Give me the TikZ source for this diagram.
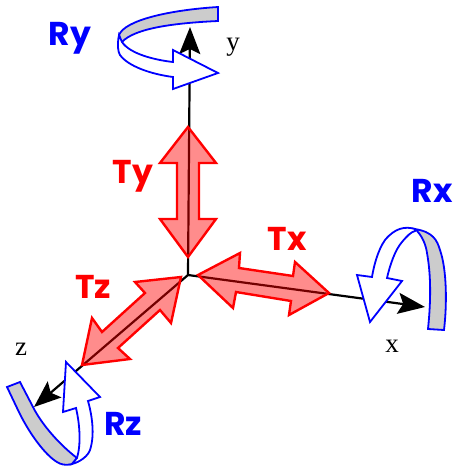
\documentclass[tikz,border=0pt]{standalone}
\usepackage{fontspec}
\setmainfont{Liberation Serif}
\setsansfont{Poppins}
\usepackage{xcolor}
\usetikzlibrary{arrows.meta}
\definecolor{accentblue}{RGB}{0,0,255}
\definecolor{accentred}{RGB}{255,0,0}
\definecolor{softgray}{RGB}{204,204,204}
\tikzset{
  axisline/.style={black, line width=2.2pt, -{Stealth[length=27pt,width=21pt,inset=5pt]}},
  axislabel/.style={font=\fontsize{27}{27}\selectfont, inner sep=0pt},
  shiftarrow/.style={draw=accentred, line width=2.4pt, fill=accentred, fill opacity=0.45, line join=miter},
  shiftlabel/.style={text=accentred, font=\sffamily\bfseries\fontsize{33}{33}\selectfont, inner sep=0pt},
  turnlabel/.style={text=accentblue, font=\sffamily\bfseries\fontsize{33}{33}\selectfont, inner sep=0pt},
  turnband/.style={draw=accentblue, line width=1.8pt, fill=softgray},
  turnhead/.style={draw=accentblue, line width=1.8pt, fill=white},
}
\begin{document}
\begin{tikzpicture}[x=1pt,y=-1pt,>=Latex]
  \useasboundingbox (0,0) rectangle (454,467);
  \coordinate (origin) at (188,275);
  \coordinate (ytip) at (190,27);
  \coordinate (xtip) at (425,307);
  \coordinate (ztip) at (34,407);
  % axes
  \draw[axisline] (origin) -- (ytip);
  \draw[axisline] (origin) -- (xtip);
  \draw[axisline] (origin) -- (ztip);
  \node[axislabel] (ylabel) at (233,47) {y};
  \node[axislabel] (xlabel) at (392,346) {x};
  \node[axislabel] (zlabel) at (21,349) {z};
  % translations
  \draw[shiftarrow] (188,127) -- (216,163) -- (199,163) -- (199,219) -- (216,219) -- (188,257)
    -- (160,219) -- (177,219) -- (177,163) -- (160,163) -- cycle;
  \draw[shiftarrow] (198,275) -- (240,253) -- (239,268) -- (293,276) -- (295,262) -- (329,293)
    -- (289,315) -- (291,301) -- (236,292) -- (233,308) -- cycle;
  \draw[shiftarrow] (181,277) -- (135,282) -- (145,293) -- (102,332) -- (92,318) -- (82,365)
    -- (130,359) -- (118,348) -- (160,310) -- (171,323) -- cycle;
  \node[shiftlabel] (ty) at (133,176) {Ty};
  \node[shiftlabel] (tx) at (287,239) {Tx};
  \node[shiftlabel] (tz) at (93,287) {Tz};
  % rotation about y
  \draw[turnband] (218,7) -- (218,21) .. controls (175,23) and (135,28) .. (122,42)
    .. controls (120,40) and (119,37) .. (119,35) .. controls (125,20) and (170,10) .. cycle;
  \draw[turnhead] (119,35) .. controls (117,45) and (118,52) .. (120,55)
    .. controls (128,66) and (150,74) .. (173,77) -- (173,89) -- (218,73) -- (173,50) -- (173,62)
    .. controls (155,60) and (130,54) .. (122,42) -- cycle;
  \node[turnlabel] (ry) at (70,38) {Ry};
  % rotation about x
  \draw[turnband] (428,329) -- (444,330) .. controls (447,305) and (447,270) .. (440,250)
    .. controls (437,240) and (433,232) .. (415,229) .. controls (422,235) and (426,245) .. (427,253)
    .. controls (431,275) and (431,300) .. cycle;
  \draw[turnhead] (415,229) .. controls (405,226) and (395,228) .. (385,240)
    .. controls (378,250) and (374,265) .. (372,277) -- (357,275) -- (370,322) -- (402,281) -- (387,278)
    .. controls (390,265) and (395,250) .. (402,242) .. controls (407,236) and (411,232) .. (415,231) -- cycle;
  \node[turnlabel] (rx) at (432,191) {Rx};
  % rotation about z
  \draw[turnband] (7,387) -- (20,382) -- (33,407) .. controls (42,425) and (60,445) .. (77,458)
    -- (72,464) .. controls (65,466) and (60,464) .. (57,462) .. controls (45,455) and (28,432) .. (17,408) -- cycle;
  \draw[turnhead] (77,458) .. controls (81,445) and (80,425) .. (76,408) -- (63,412) -- (66,362)
    -- (100,397) -- (88,401) .. controls (92,415) and (95,435) .. (90,450)
    .. controls (88,456) and (80,462) .. (72,464) -- cycle;
  \node[turnlabel] (rz) at (123,424) {Rz};
\end{tikzpicture}
\end{document}
